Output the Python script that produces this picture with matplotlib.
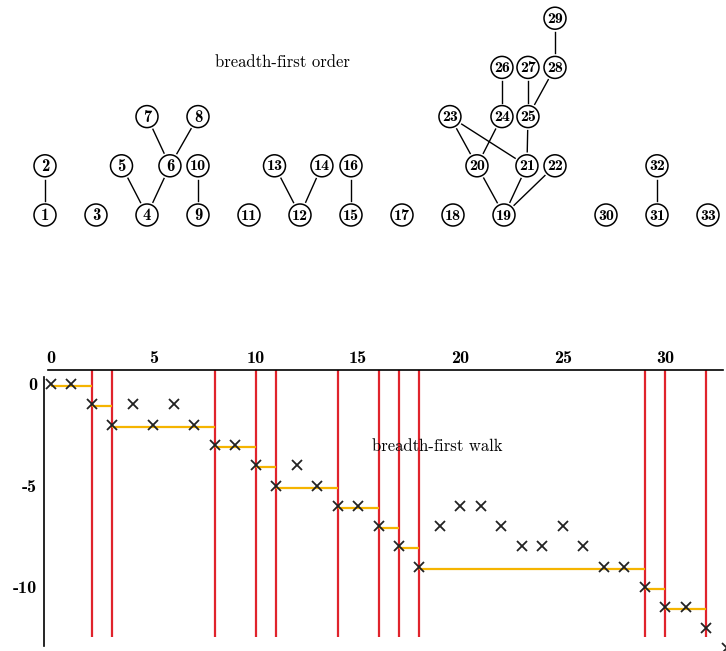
import matplotlib
matplotlib.use('Agg')
import matplotlib.pyplot as plt
from matplotlib.patches import Circle
import numpy as np

plt.rcParams['axes.unicode_minus'] = False

# forest in breadth-first order: node number, column slot, level
node_ids = list(range(1, 34))
node_slot = [0, 0, 1, 2, 1.5, 2.45, 2, 3, 3, 3, 4, 5, 4.5, 5.43, 6, 6, 7, 8, 9,
             8.47, 9.45, 10, 7.94, 8.96, 9.47, 8.96, 9.47, 10, 10, 11, 12, 12, 13]
node_level = [0, 1, 0, 0, 1, 1, 2, 2, 0, 1, 0, 0, 1, 1, 0, 1, 0, 0, 0,
              1, 1, 1, 2, 2, 2, 3, 3, 3, 4, 0, 0, 1, 0]
edges = [(1, 2), (4, 5), (4, 6), (6, 7), (6, 8), (9, 10), (12, 13), (12, 14),
         (15, 16), (19, 20), (19, 21), (19, 22), (20, 23), (20, 24), (21, 23),
         (21, 25), (24, 26), (25, 27), (25, 28), (28, 29), (31, 32)]

# breadth-first walk
walk = [0, 0, -1, -2, -1, -2, -1, -2, -3, -3, -4, -5, -4, -5, -6, -6, -7, -8, -9,
        -7, -6, -6, -7, -8, -8, -7, -8, -9, -9, -10, -11, -11, -12, -13]
red_x = [2, 3, 8, 10, 11, 14, 16, 17, 18, 29, 30, 32]
step_start = [0, 2, 3, 8, 10, 11, 14, 16, 17, 18, 29, 30]
step_end = [2, 3, 8, 10, 11, 14, 16, 17, 18, 29, 30, 32]
step_level = [0, -1, -2, -3, -4, -5, -6, -7, -8, -9, -10, -11]
xtick_vals = [0, 5, 10, 15, 20, 25, 30]
ytick_vals = [0, -5, -10]

fig = plt.figure(figsize=(7.26, 6.51), dpi=100)

# ---- top: the forest ----
axt = fig.add_axes([0, 1 - 240 / 651, 1, 240 / 651])
axt.set_xlim(0, 726)
axt.set_ylim(240, 0)
axt.axis('off')

def node_xy(n):
    i = n - 1
    return 45 + 51 * node_slot[i], 215 - 49.2 * node_level[i]

r = 11
for a, b in edges:
    x1, y1 = node_xy(a)
    x2, y2 = node_xy(b)
    d = np.hypot(x2 - x1, y2 - y1)
    ux, uy = (x2 - x1) / d, (y2 - y1) / d
    axt.plot([x1 + ux * 14, x2 - ux * 14], [y1 + uy * 14, y2 - uy * 14],
             color='black', lw=1.0)
for n in node_ids:
    x, y = node_xy(n)
    axt.add_patch(Circle((x, y), r, facecolor='white', edgecolor='black', lw=1.1))
    axt.text(x, y + 0.5, str(n), ha='center', va='center',
             fontsize=12 if n < 10 else 11.5, family='cmb10')
axt.text(282, 62, 'breadth-first order', ha='center', va='center',
         fontsize=12, family='cmr10')

# ---- bottom: the walk ----
ax = fig.add_axes([44 / 726, 0, 682 / 726, (651 - 370) / 651])
ax.set_xlim(-0.34, 32.97)
ax.set_ylim(-13.15, 0.69)

ax.vlines(red_x, -12.45, 0.69, color='#e0232c', lw=1.6, zorder=2)
ax.hlines(np.array(step_level) - 0.1, step_start, step_end, color='#f5b400',
          lw=1.6, zorder=3)
ax.plot(range(len(walk)), walk, 'x', color='#222222', ms=7.5, mew=1.3, zorder=4)

ax.text(15.7, -3.05, 'breadth-first walk', ha='left', va='center',
        fontsize=12, family='cmr10')

for s in ['right', 'bottom']:
    ax.spines[s].set_visible(False)
ax.spines['top'].set_bounds(-0.15, 32.8)
ax.spines['left'].set_bounds(-12.9, 0.35)
ax.spines['top'].set_linewidth(1.2)
ax.spines['left'].set_linewidth(1.2)
ax.xaxis.tick_top()
ax.set_xticks(xtick_vals)
ax.set_xticklabels([str(v) for v in xtick_vals], family='cmb10', fontsize=13)
ax.set_yticks(ytick_vals)
ax.set_yticklabels([str(v) for v in ytick_vals], family='cmb10', fontsize=13)
ax.tick_params(axis='x', length=0, pad=3)
ax.tick_params(axis='y', length=0, pad=5)

fig.savefig('out.png', dpi=100)
